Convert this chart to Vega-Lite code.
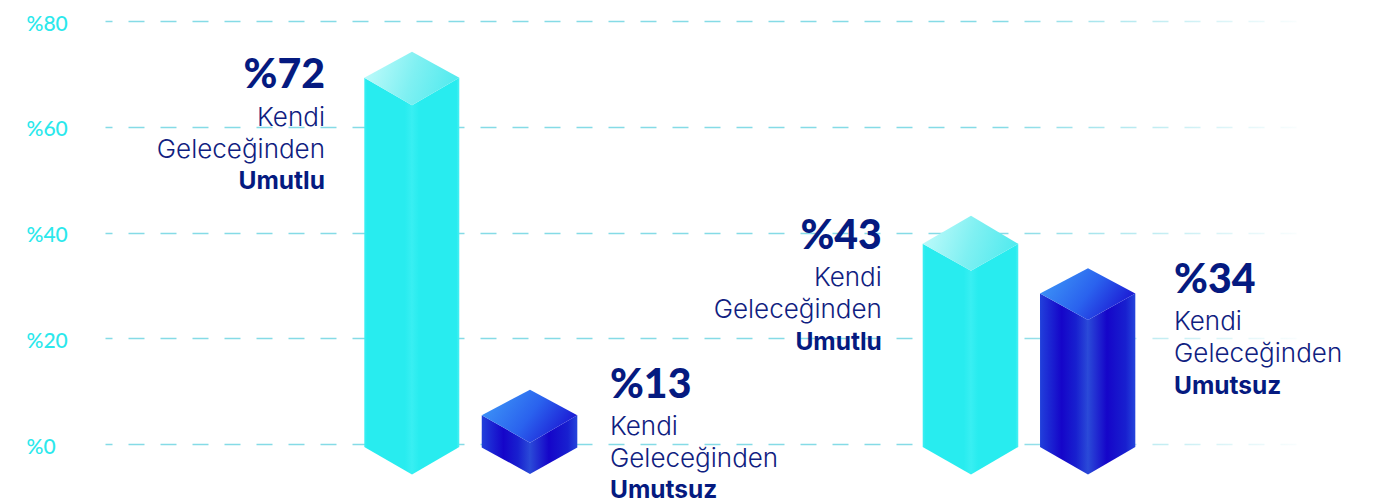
{"$schema":"https://vega.github.io/schema/vega-lite/v6.json","width":1287,"height":502,"autosize":{"type":"none"},"padding":{"left":105,"top":0,"right":0,"bottom":0},"background":"white","config":{"view":{"stroke":null}},
"datasets":{
"mask":[{"x":6.69,"x2":10.82,"y":-10.91,"y2":83.99}],
"faces":[
{"bar":"b1","series":"Umutlu","face":"left","x":0,"y":69.3,"y2":-0.5},{"bar":"b1","series":"Umutlu","face":"left","x":0.5021,"y":64.1,"y2":-5.7},
{"bar":"b1","series":"Umutlu","face":"right","x":0.5021,"y":64.1,"y2":-5.7},{"bar":"b1","series":"Umutlu","face":"right","x":1,"y":69.3,"y2":-0.5},
{"bar":"b1","series":"Umutlu","face":"top","x":0,"y":69.3,"y2":69.3},{"bar":"b1","series":"Umutlu","face":"top","x":0.5021,"y":74.2,"y2":64.1},{"bar":"b1","series":"Umutlu","face":"top","x":1,"y":69.3,"y2":69.3},
{"bar":"b2","series":"Umutsuz","face":"left","x":1.236,"y":5.5,"y2":-0.6},{"bar":"b2","series":"Umutsuz","face":"left","x":1.7442,"y":0.3,"y2":-5.6},
{"bar":"b2","series":"Umutsuz","face":"right","x":1.7442,"y":0.3,"y2":-5.6},{"bar":"b2","series":"Umutsuz","face":"right","x":2.242,"y":5.5,"y2":-0.6},
{"bar":"b2","series":"Umutsuz","face":"top","x":1.236,"y":5.5,"y2":5.5},{"bar":"b2","series":"Umutsuz","face":"top","x":1.7442,"y":10.3,"y2":0.3},{"bar":"b2","series":"Umutsuz","face":"top","x":2.242,"y":5.5,"y2":5.5},
{"bar":"b3","series":"Umutlu","face":"left","x":5.878,"y":37.9,"y2":-0.5},{"bar":"b3","series":"Umutlu","face":"left","x":6.3863,"y":32.8,"y2":-5.7},
{"bar":"b3","series":"Umutlu","face":"right","x":6.3863,"y":32.8,"y2":-5.7},{"bar":"b3","series":"Umutlu","face":"right","x":6.884,"y":37.9,"y2":-0.5},
{"bar":"b3","series":"Umutlu","face":"top","x":5.878,"y":37.9,"y2":37.9},{"bar":"b3","series":"Umutlu","face":"top","x":6.3863,"y":43.2,"y2":32.8},{"bar":"b3","series":"Umutlu","face":"top","x":6.884,"y":37.9,"y2":37.9},
{"bar":"b4","series":"Umutsuz","face":"left","x":7.113,"y":28.5,"y2":-0.5},{"bar":"b4","series":"Umutsuz","face":"left","x":7.6179,"y":23.5,"y2":-5.7},
{"bar":"b4","series":"Umutsuz","face":"right","x":7.6179,"y":23.5,"y2":-5.7},{"bar":"b4","series":"Umutsuz","face":"right","x":8.116,"y":28.5,"y2":-0.5},
{"bar":"b4","series":"Umutsuz","face":"top","x":7.113,"y":28.5,"y2":28.5},{"bar":"b4","series":"Umutsuz","face":"top","x":7.6179,"y":33.3,"y2":23.5},{"bar":"b4","series":"Umutsuz","face":"top","x":8.116,"y":28.5,"y2":28.5}
],
"labels":[
{"side":"r","kind":"v","x":-0.414,"y":67.35,"text":"%72"},{"side":"r","kind":"l","x":-0.414,"y":60.2,"text":"Kendi"},{"side":"r","kind":"l","x":-0.414,"y":54.1,"text":"Geleceğinden"},{"side":"r","kind":"b","x":-0.414,"y":48.3,"text":"Umutlu"},
{"side":"l","kind":"v","x":2.586,"y":8.75,"text":"%13"},{"side":"l","kind":"l","x":2.586,"y":1.76,"text":"Kendi"},{"side":"l","kind":"l","x":2.586,"y":-4.29,"text":"Geleceğinden"},{"side":"l","kind":"b","x":2.586,"y":-10.15,"text":"Umutsuz"},
{"side":"r","kind":"v","x":5.448,"y":36.9,"text":"%43"},{"side":"r","kind":"l","x":5.448,"y":29.9,"text":"Kendi"},{"side":"r","kind":"l","x":5.448,"y":23.9,"text":"Geleceğinden"},{"side":"r","kind":"b","x":5.448,"y":17.8,"text":"Umutlu"},
{"side":"l","kind":"v","x":8.523,"y":28.6,"text":"%34"},{"side":"l","kind":"l","x":8.523,"y":21.6,"text":"Kendi"},{"side":"l","kind":"l","x":8.523,"y":15.6,"text":"Geleceğinden"},{"side":"l","kind":"b","x":8.523,"y":9.6,"text":"Umutsuz"}
]},
"encoding":{
"x":{"field":"x","type":"quantitative","scale":{"domain":[-2.7295,10.818],"nice":false,"zero":false},"axis":null},
"y":{"field":"y","type":"quantitative","scale":{"domain":[-10.91,83.99],"nice":false,"zero":false},"axis":{"title":null,"values":[0,20,40,60,80],"labelExpr":"'%'+datum.value","domain":false,"ticks":false,"labelPadding":79,"labelAlign":"left","labelOffset":3,"labelFont":"Lato","labelFontSize":21,"labelFontWeight":500,"labelColor":"#2BE8EC","grid":true,"gridDash":[16,16],"gridDashOffset":9,"gridColor":"#85DBE6","gridWidth":1.4}}
},
"layer":[
{"data":{"name":"mask"},"mark":{"type":"rect","color":{"gradient":"linear","x1":0,"y1":0,"x2":1,"y2":0,"stops":[{"offset":0,"color":"rgba(255,255,255,0)"},{"offset":0.8,"color":"rgba(255,255,255,1)"},{"offset":1,"color":"rgba(255,255,255,1)"}]}},"encoding":{"x2":{"field":"x2"},"y2":{"field":"y2"}}},
{"data":{"name":"faces"},"transform":[{"filter":"datum.series=='Umutlu'&&datum.face=='left'"}],"mark":{"type":"area","color":{"gradient":"linear","x1":0,"y1":0,"x2":1,"y2":0,"stops":[{"offset":0,"color":"#3CEFF2"},{"offset":0.06,"color":"#28ECEF"},{"offset":0.85,"color":"#28ECEF"},{"offset":1,"color":"#38EFF2"}]}},"encoding":{"y2":{"field":"y2"},"detail":{"field":"bar"}}},
{"data":{"name":"faces"},"transform":[{"filter":"datum.series=='Umutlu'&&datum.face=='right'"}],"mark":{"type":"area","color":{"gradient":"linear","x1":0,"y1":0,"x2":1,"y2":0,"stops":[{"offset":0,"color":"#38EFF2"},{"offset":0.15,"color":"#28ECEF"},{"offset":0.94,"color":"#28ECEF"},{"offset":1,"color":"#4AF0F3"}]}},"encoding":{"y2":{"field":"y2"},"detail":{"field":"bar"}}},
{"data":{"name":"faces"},"transform":[{"filter":"datum.series=='Umutlu'&&datum.face=='top'"}],"mark":{"type":"area","color":{"gradient":"linear","x1":0,"y1":0.4,"x2":1,"y2":0.6,"stops":[{"offset":0,"color":"#BDFAFA"},{"offset":0.5,"color":"#7FF0F2"},{"offset":1,"color":"#4FEAEE"}]}},"encoding":{"y2":{"field":"y2"},"detail":{"field":"bar"}}},
{"data":{"name":"faces"},"transform":[{"filter":"datum.series=='Umutsuz'&&datum.face=='left'"}],"mark":{"type":"area","color":{"gradient":"linear","x1":0,"y1":0,"x2":1,"y2":0,"stops":[{"offset":0,"color":"#2140DB"},{"offset":0.45,"color":"#1505C9"},{"offset":0.75,"color":"#1820CF"},{"offset":1,"color":"#2A4AD8"}]}},"encoding":{"y2":{"field":"y2"},"detail":{"field":"bar"}}},
{"data":{"name":"faces"},"transform":[{"filter":"datum.series=='Umutsuz'&&datum.face=='right'"}],"mark":{"type":"area","color":{"gradient":"linear","x1":0,"y1":0,"x2":1,"y2":0,"stops":[{"offset":0,"color":"#2A4AD8"},{"offset":0.4,"color":"#1505C9"},{"offset":0.8,"color":"#1820CF"},{"offset":1,"color":"#2545DC"}]}},"encoding":{"y2":{"field":"y2"},"detail":{"field":"bar"}}},
{"data":{"name":"faces"},"transform":[{"filter":"datum.series=='Umutsuz'&&datum.face=='top'"}],"mark":{"type":"area","color":{"gradient":"linear","x1":0,"y1":0.3,"x2":1,"y2":0.7,"stops":[{"offset":0,"color":"#3D95F7"},{"offset":0.5,"color":"#2A62EE"},{"offset":1,"color":"#1A0FD0"}]}},"encoding":{"y2":{"field":"y2"},"detail":{"field":"bar"}}},
{"data":{"name":"labels"},"transform":[{"filter":"datum.kind=='v'&&datum.side=='r'"}],"mark":{"type":"text","align":"right","baseline":"alphabetic","font":"Lato","fontSize":41,"fontWeight":900,"color":"#051A80"},"encoding":{"text":{"field":"text"}}},
{"data":{"name":"labels"},"transform":[{"filter":"datum.kind=='v'&&datum.side=='l'"}],"mark":{"type":"text","align":"left","baseline":"alphabetic","font":"Lato","fontSize":41,"fontWeight":900,"color":"#051A80"},"encoding":{"text":{"field":"text"}}},
{"data":{"name":"labels"},"transform":[{"filter":"datum.kind=='l'&&datum.side=='r'"}],"mark":{"type":"text","align":"right","baseline":"alphabetic","font":"Inter","fontSize":26,"fontWeight":300,"color":"#0F2080"},"encoding":{"text":{"field":"text"}}},
{"data":{"name":"labels"},"transform":[{"filter":"datum.kind=='l'&&datum.side=='l'"}],"mark":{"type":"text","align":"left","baseline":"alphabetic","font":"Inter","fontSize":26,"fontWeight":300,"color":"#0F2080"},"encoding":{"text":{"field":"text"}}},
{"data":{"name":"labels"},"transform":[{"filter":"datum.kind=='b'&&datum.side=='r'"}],"mark":{"type":"text","align":"right","baseline":"alphabetic","font":"Inter","fontSize":24.5,"fontWeight":700,"color":"#051A80"},"encoding":{"text":{"field":"text"}}},
{"data":{"name":"labels"},"transform":[{"filter":"datum.kind=='b'&&datum.side=='l'"}],"mark":{"type":"text","align":"left","baseline":"alphabetic","font":"Inter","fontSize":24.5,"fontWeight":700,"color":"#051A80"},"encoding":{"text":{"field":"text"}}}
]}
